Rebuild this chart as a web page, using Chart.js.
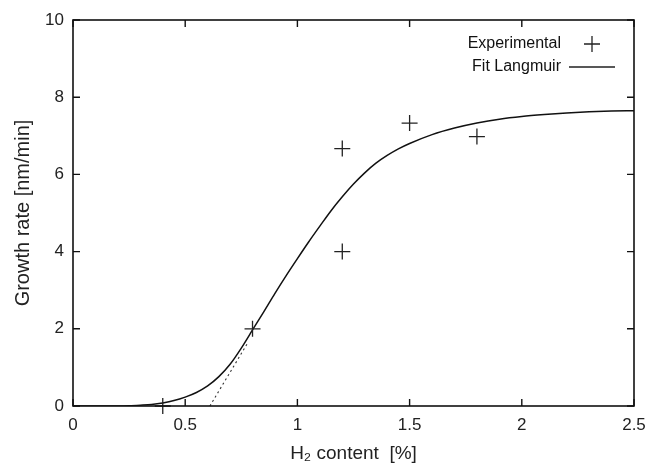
<!DOCTYPE html>
<html>
<head>
<meta charset="utf-8">
<script src="https://cdn.jsdelivr.net/npm/chart.js@4.4.1/dist/chart.umd.min.js"></script>
<style>
  html, body { margin: 0; padding: 0; background: #fff; }
  #wrap { width: 650px; height: 467px; }
</style>
</head>
<body>
<div id="wrap"><canvas id="growth-chart" width="650" height="467"></canvas></div>
<script>
// measured growth rate vs H2 content
const expX = [0.4, 0.8, 1.2, 1.2, 1.5, 1.8];
const expY = [0.0, 2.0, 6.67, 4.0, 7.33, 6.98];

// Langmuir fit curve
const fitX = [0, 0.1, 0.2, 0.25, 0.3, 0.35, 0.4, 0.45, 0.5, 0.55, 0.6, 0.65, 0.7, 0.75, 0.8, 0.85, 0.9, 0.95, 1.0, 1.05, 1.1, 1.15, 1.2, 1.25, 1.3, 1.35, 1.4, 1.45, 1.5, 1.6, 1.7, 1.8, 1.9, 2.0, 2.1, 2.2, 2.3, 2.4, 2.5];
const fitY = [0, 0, 0, 0.005, 0.02, 0.04, 0.08, 0.14, 0.23, 0.35, 0.52, 0.76, 1.08, 1.5, 1.97, 2.44, 2.92, 3.38, 3.82, 4.25, 4.66, 5.06, 5.42, 5.75, 6.04, 6.29, 6.49, 6.66, 6.8, 7.03, 7.2, 7.33, 7.43, 7.5, 7.55, 7.59, 7.62, 7.64, 7.65];

// dotted tangent at the onset
const tanX = [0.61, 0.775];
const tanY = [0, 1.6];

const xTicks = [0, 0.5, 1, 1.5, 2, 2.5];
const yTicks = [0, 2, 4, 6, 8, 10];

const fontFam = "'Liberation Sans', Arial, Helvetica, sans-serif";

function pts(xs, ys) {
    return xs.map((x, i) => ({x: x, y: ys[i]}));
}

// frame + inward ticks on all four sides (gnuplot style)
const framePlugin = {
    id: 'frame',
    afterDatasetsDraw(chart) {
        const {ctx, chartArea: a, scales} = chart;
        ctx.save();
        ctx.strokeStyle = '#111';
        ctx.lineWidth = 1.6;
        ctx.strokeRect(a.left, a.top, a.right - a.left, a.bottom - a.top);
        ctx.lineWidth = 1.4;
        const len = 7;
        ctx.beginPath();
        xTicks.forEach(v => {
            const px = scales.x.getPixelForValue(v);
            ctx.moveTo(px, a.bottom); ctx.lineTo(px, a.bottom - len);
            ctx.moveTo(px, a.top); ctx.lineTo(px, a.top + len);
        });
        yTicks.forEach(v => {
            const py = scales.y.getPixelForValue(v);
            ctx.moveTo(a.left, py); ctx.lineTo(a.left + len, py);
            ctx.moveTo(a.right, py); ctx.lineTo(a.right - len, py);
        });
        ctx.stroke();
        ctx.restore();
    }
};

// key in the top right corner
const keyPlugin = {
    id: 'key',
    afterDraw(chart) {
        const ctx = chart.ctx;
        ctx.save();
        ctx.font = '16px ' + fontFam;
        ctx.fillStyle = '#111';
        ctx.textAlign = 'right';
        ctx.textBaseline = 'middle';
        ctx.fillText('Experimental', 561, 44);
        ctx.fillText('Fit Langmuir', 561, 67);
        ctx.strokeStyle = '#222';
        ctx.lineWidth = 1.3;
        ctx.beginPath();
        ctx.moveTo(584, 44); ctx.lineTo(600, 44);
        ctx.moveTo(592, 36); ctx.lineTo(592, 52);
        ctx.moveTo(569, 67); ctx.lineTo(615, 67);
        ctx.stroke();
        ctx.restore();
    }
};

const ctx = document.getElementById('growth-chart').getContext('2d');

new Chart(ctx, {
    type: 'scatter',
    data: {
        datasets: [
            {
                label: 'Experimental',
                data: pts(expX, expY),
                pointStyle: 'cross',
                pointRadius: 8,
                pointBorderWidth: 1.3,
                borderColor: '#222',
                backgroundColor: '#222',
                showLine: false,
                clip: false
            },
            {
                label: 'Fit Langmuir',
                data: pts(fitX, fitY),
                showLine: true,
                borderColor: '#111',
                borderWidth: 1.5,
                pointRadius: 0,
                cubicInterpolationMode: 'monotone'
            },
            {
                label: 'tangent',
                data: pts(tanX, tanY),
                showLine: true,
                borderColor: '#333',
                borderWidth: 1.1,
                borderDash: [2, 3],
                pointRadius: 0
            }
        ]
    },
    options: {
        responsive: false,
        animation: false,
        layout: { padding: { top: 20, right: 16, left: 0, bottom: 0 } },
        plugins: {
            legend: { display: false },
            tooltip: { enabled: false }
        },
        scales: {
            x: {
                type: 'linear',
                min: 0,
                max: 2.5,
                afterBuildTicks: s => { s.ticks = xTicks.map(v => ({value: v})); },
                afterFit: s => { s.height = 61; s.paddingLeft = 0; s.paddingRight = 0; },
                grid: { display: false, drawTicks: false },
                border: { display: false },
                ticks: {
                    padding: 9,
                    color: '#222',
                    font: { family: fontFam, size: 17 },
                    callback: v => String(v)
                },
                title: {
                    display: true,
                    text: 'H\u2082 content  [%]',
                    color: '#222',
                    font: { family: fontFam, size: 19 },
                    padding: { top: 0, bottom: 2 }
                }
            },
            y: {
                type: 'linear',
                min: 0,
                max: 10,
                afterBuildTicks: s => { s.ticks = yTicks.map(v => ({value: v})); },
                afterFit: s => { s.width = 73; s.paddingTop = 0; s.paddingBottom = 0; },
                grid: { display: false, drawTicks: false },
                border: { display: false },
                ticks: {
                    padding: 9,
                    color: '#222',
                    font: { family: fontFam, size: 17 },
                    callback: v => String(v)
                },
                title: {
                    display: true,
                    text: 'Growth rate [nm/min]',
                    color: '#222',
                    font: { family: fontFam, size: 20 },
                    padding: { top: 11, bottom: 0 }
                }
            }
        }
    },
    plugins: [framePlugin, keyPlugin]
});
</script>
</body>
</html>
